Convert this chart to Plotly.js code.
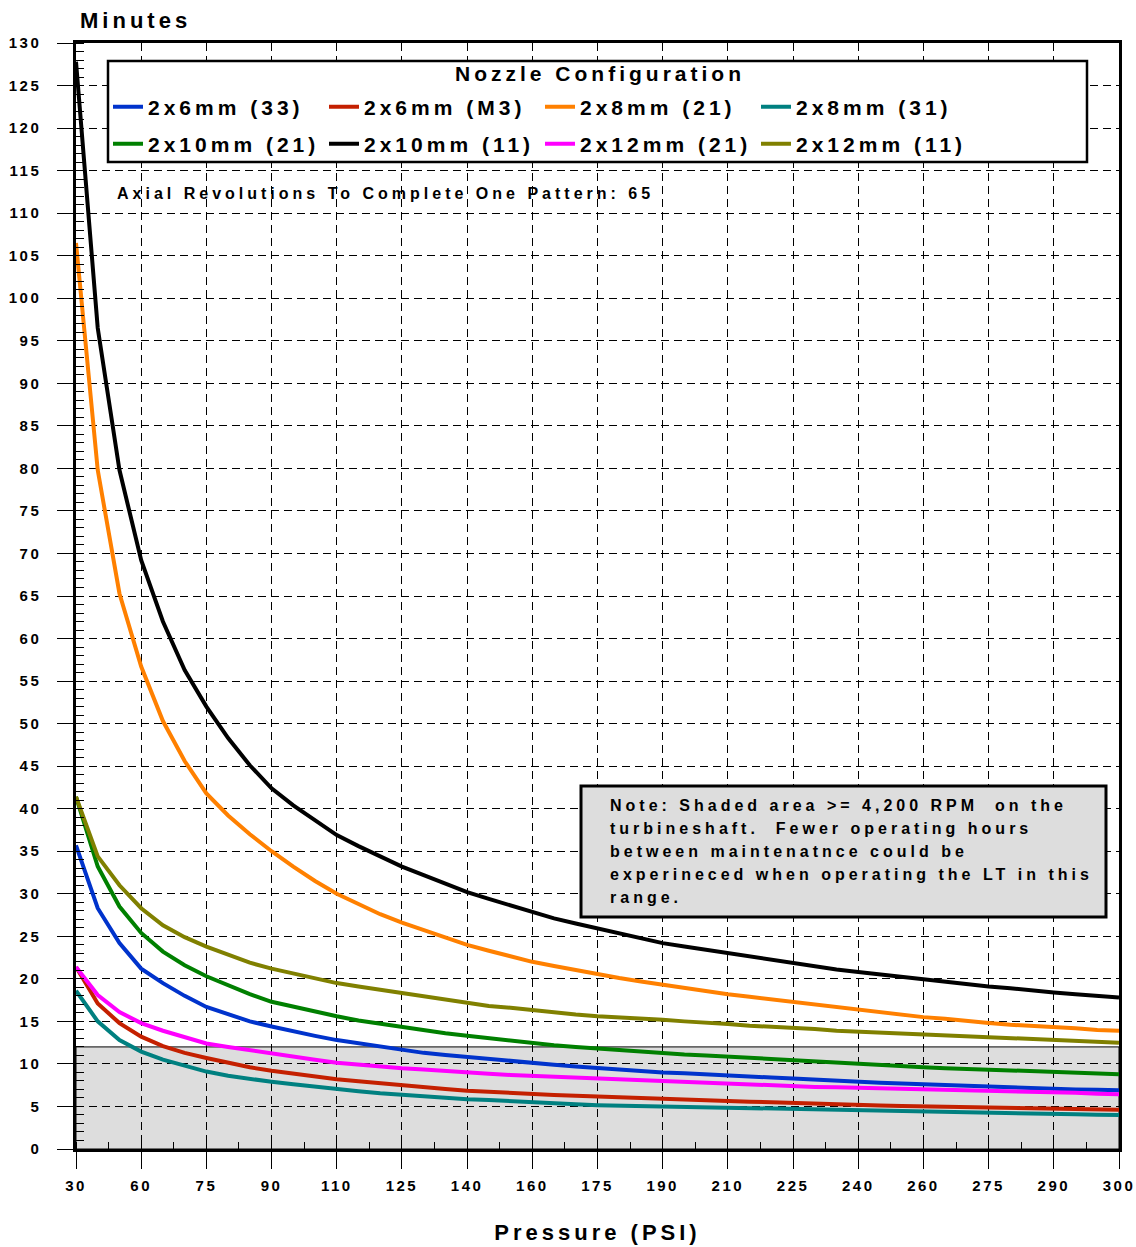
<!DOCTYPE html>
<html>
<head>
<meta charset="utf-8">
<script src="https://cdn.plot.ly/plotly-3.0.1.min.js"></script>
<style>
html,body{margin:0;padding:0;background:#fff;}
#chart{width:1136px;height:1247px;}
text.legendtext{letter-spacing:4px;}
.xtick text,.ytick text{letter-spacing:2.5px;}
text.xtitle{letter-spacing:4px;}
text.annotation-text{letter-spacing:4px;}
</style>
</head>
<body>
<div id="chart"></div>
<script>
// Tick labels of the pressure (category) axis; three data points per label interval
const pressureLabels = ['30','60','75','90','110','125','140','160','175','190','210','225','240','260','275','290','300'];
const pointsPerLabel = 3;
const shadeLimit = 12; // minutes, shaded area (>= 4,200 RPM)

const s2x6mm33 = [35.7,28.3,24.2,21.2,19.5,18.0,16.7,15.8,15.0,14.4,13.8,13.3,12.8,12.4,12.0,11.6,11.3,11.05,10.8,10.55,10.3,10.1,9.9,9.7,9.5,9.3,9.15,9.0,8.9,8.75,8.65,8.5,8.4,8.3,8.15,8.0,7.9,7.8,7.7,7.6,7.5,7.4,7.3,7.25,7.15,7.1,7.0,6.95,6.9];
const s2x6mmM3 = [21.4,17.1,14.8,13.2,12.1,11.3,10.7,10.1,9.6,9.2,8.85,8.5,8.2,7.95,7.7,7.45,7.25,7.05,6.85,6.7,6.55,6.45,6.35,6.25,6.15,6.05,5.95,5.85,5.8,5.7,5.65,5.55,5.5,5.4,5.3,5.25,5.15,5.1,5.05,5.0,4.95,4.85,4.8,4.75,4.7,4.65,4.65,4.6,4.6];
const s2x8mm21 = [106.5,79.8,65.3,56.7,50.3,45.6,41.8,39.2,37.0,35.0,33.2,31.5,30.0,28.8,27.6,26.6,25.7,24.8,24.0,23.3,22.6,22.0,21.5,21.0,20.6,20.1,19.7,19.3,18.9,18.5,18.2,17.9,17.6,17.3,17.0,16.6,16.3,16.0,15.8,15.5,15.3,15.0,14.8,14.6,14.5,14.3,14.2,14.0,13.9];
const s2x8mm31 = [18.6,15.0,12.8,11.45,10.5,9.75,9.1,8.6,8.2,7.9,7.6,7.3,7.0,6.8,6.55,6.35,6.15,6.0,5.85,5.75,5.6,5.5,5.4,5.25,5.15,5.1,5.05,5.0,4.95,4.9,4.85,4.8,4.7,4.65,4.6,4.5,4.45,4.4,4.35,4.3,4.27,4.23,4.2,4.17,4.13,4.1,4.07,4.03,4.0];
const s2x10mm21 = [41.4,33.2,28.5,25.4,23.2,21.6,20.3,19.2,18.2,17.3,16.7,16.1,15.6,15.1,14.7,14.3,13.9,13.6,13.3,13.0,12.7,12.5,12.2,12.0,11.8,11.6,11.5,11.3,11.1,11.0,10.85,10.7,10.55,10.4,10.25,10.1,10.0,9.85,9.7,9.6,9.5,9.4,9.3,9.2,9.1,9.0,8.95,8.85,8.8];
const s2x10mm11 = [127.8,96.5,79.8,69.2,62.0,56.3,52.0,48.3,45.1,42.4,40.4,38.6,36.9,35.6,34.4,33.2,32.2,31.2,30.2,29.4,28.6,27.8,27.1,26.5,25.9,25.3,24.7,24.2,23.8,23.4,23.0,22.6,22.2,21.9,21.5,21.1,20.8,20.5,20.2,19.9,19.6,19.4,19.1,18.9,18.6,18.4,18.2,18.0,17.8];
const s2x12mm21 = [21.4,18.1,16.1,14.8,13.9,13.1,12.4,12.0,11.6,11.25,10.9,10.5,10.15,9.9,9.7,9.5,9.35,9.15,9.0,8.85,8.7,8.6,8.5,8.4,8.3,8.15,8.0,7.9,7.8,7.7,7.6,7.55,7.45,7.4,7.3,7.25,7.2,7.15,7.05,7.0,6.95,6.9,6.85,6.8,6.7,6.65,6.6,6.5,6.45];
const s2x12mm11 = [41.4,34.4,31.0,28.3,26.3,24.9,23.8,22.8,21.9,21.2,20.6,20.0,19.5,19.1,18.7,18.3,17.9,17.5,17.1,16.8,16.6,16.3,16.1,15.8,15.6,15.5,15.3,15.2,15.0,14.9,14.7,14.5,14.4,14.2,14.1,13.9,13.8,13.7,13.5,13.4,13.3,13.2,13.1,13.0,12.9,12.8,12.7,12.6,12.5];

const seriesNames = ['2x6mm (33)','2x6mm (M3)','2x8mm (21)','2x8mm (31)','2x10mm (21)','2x10mm (11)','2x12mm (21)','2x12mm (11)'];
const seriesValues = [s2x6mm33,s2x6mmM3,s2x8mm21,s2x8mm31,s2x10mm21,s2x10mm11,s2x12mm21,s2x12mm11];
const seriesColors = ['#0033cc','#c42000','#ff8000','#008080','#008000','#000000','#ff00ff','#808000'];
const legendTitle = 'Nozzle Configuration';

const noteLines = [
  'Note: Shaded area >= 4,200 RPM  on the',
  'turbineshaft.  Fewer operating hours',
  'between maintenatnce could be',
  'experineced when operating the LT in this',
  'range.'
];

const traces = seriesValues.map((vals, k) => ({
  type: 'scatter',
  mode: 'lines',
  name: '<span style="letter-spacing:4px">' + seriesNames[k] + '</span>',
  legend: k < 4 ? 'legend' : 'legend2',
  x: vals.map((v, i) => i / pointsPerLabel),
  y: vals,
  line: {color: seriesColors[k], width: 4},
  hoverinfo: 'x+y+name'
}));

// plot area in pixels: left 76, right 1119, top 43, bottom 1149
const PL = 76, PR = 1119, PT = 43, PB = 1149;
const px = x => (x - PL) / (PR - PL);
const py = y => (PB - y) / (PB - PT);

const boldFont = (size) => ({size: size, weight: 700, color: '#000'});

const annotations = [
  {text: 'Minutes', xref: 'paper', yref: 'paper', x: px(78), y: py(20), xanchor: 'left', yanchor: 'middle', showarrow: false, font: boldFont(22)},
  {text: legendTitle, xref: 'paper', yref: 'paper', x: px(600), y: py(74), xanchor: 'center', yanchor: 'middle', showarrow: false, font: boldFont(21)},
  {text: 'Axial Revolutions To Complete One Pattern: 65', xref: 'paper', yref: 'paper', x: px(115), y: py(193), xanchor: 'left', yanchor: 'middle', showarrow: false, font: boldFont(16)}
];
noteLines.forEach((t, i) => {
  annotations.push({text: t, xref: 'paper', yref: 'paper', x: px(608), y: py(805 + 23 * i), xanchor: 'left', yanchor: 'middle', showarrow: false, font: boldFont(16)});
});

const shapes = [
  {type: 'rect', xref: 'paper', yref: 'y', x0: 0, x1: 1, y0: 0, y1: shadeLimit, fillcolor: '#dddddd', line: {color: '#000', width: 1}, layer: 'below'},
  {type: 'rect', xref: 'paper', yref: 'paper', x0: px(108), x1: px(1087), y0: py(162), y1: py(61), fillcolor: '#ffffff', line: {color: '#000', width: 2.5}, layer: 'above'},
  {type: 'rect', xref: 'paper', yref: 'paper', x0: px(581), x1: px(1106), y0: py(917), y1: py(786), fillcolor: '#dddddd', line: {color: '#000', width: 3}, layer: 'above'}
];

const axisCommon = {
  showline: true, linewidth: 2.5, linecolor: '#000', mirror: true,
  showgrid: true, gridcolor: '#000', gridwidth: 1, griddash: '8px,5px',
  zeroline: false, ticks: 'outside', tickwidth: 1, tickcolor: '#000',
  tickfont: boldFont(15)
};

const legendCommon = {
  xanchor: 'left', yanchor: 'middle', orientation: 'h',
  bgcolor: 'rgba(0,0,0,0)', borderwidth: 0,
  entrywidth: 171, entrywidthmode: 'pixels', traceorder: 'normal',
  font: boldFont(21)
};

const layout = {
  width: 1136, height: 1247,
  margin: {l: PL, r: 1136 - PR, t: PT, b: 1247 - PB, pad: 0},
  paper_bgcolor: '#fff', plot_bgcolor: '#fff',
  font: {family: '"Liberation Sans", Arial, sans-serif', color: '#000'},
  showlegend: true,
  legend: Object.assign({}, legendCommon, {x: px(108), y: py(107)}),
  legend2: Object.assign({}, legendCommon, {x: px(108), y: py(144)}),
  xaxis: Object.assign({}, axisCommon, {
    range: [0, pressureLabels.length - 1],
    tickmode: 'array',
    tickvals: pressureLabels.map((_, i) => i),
    ticktext: pressureLabels,
    ticklen: 17,
    ticklabelstandoff: 4,
    minor: {tick0: 0, dtick: 0.5, ticks: 'inside', ticklen: 7, tickwidth: 1, tickcolor: '#000', showgrid: false},
    title: {text: 'Pressure (PSI)', font: boldFont(22), standoff: 32}
  }),
  yaxis: Object.assign({}, axisCommon, {
    range: [0, 130], tick0: 0, dtick: 5,
    ticklen: 16,
    ticklabelstandoff: 13,
    minor: {tick0: 0, dtick: 1, ticks: 'inside', ticklen: 8, tickwidth: 1, tickcolor: '#000', showgrid: false}
  }),
  annotations: annotations,
  shapes: shapes
};

Plotly.newPlot('chart', traces, layout, {displayModeBar: false, responsive: false});
</script>
</body>
</html>
